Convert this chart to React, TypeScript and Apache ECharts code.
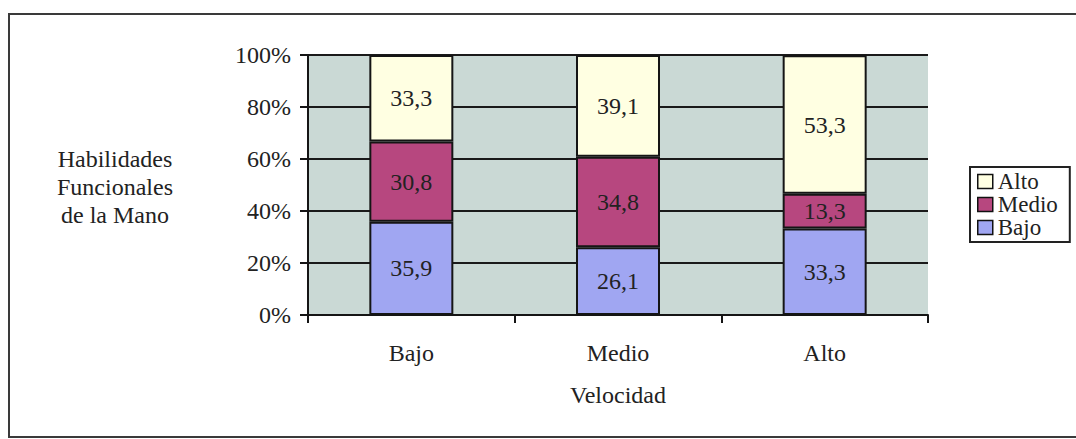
import React, { useEffect, useRef } from "react";
import * as echarts from "echarts";

const categories = ["Bajo", "Medio", "Alto"];
const bajoValues = [35.9, 26.1, 33.3];
const medioValues = [30.8, 34.8, 13.3];
const altoValues = [33.3, 39.1, 53.3];
const legendOrder = ["Alto", "Medio", "Bajo"];
const yAxisTitleLines = ["Habilidades", "Funcionales", "de la Mano"];
const xAxisTitle = "Velocidad";

const FONT = "Liberation Serif, Times New Roman, serif";
const TEXT = "#222";

const fmt = (p: any) => String(p.value).replace(".", ",");

function makeSeries(name: string, data: number[], color: string) {
  return {
    name,
    type: "bar",
    stack: "total",
    barWidth: 84,
    data,
    itemStyle: { color, borderColor: "#151515", borderWidth: 2 },
    label: {
      show: true,
      position: "inside",
      formatter: fmt,
      color: TEXT,
      fontSize: 24,
      fontFamily: FONT,
    },
  };
}

export default function App() {
  const ref = useRef<HTMLDivElement>(null);
  useEffect(() => {
    if (!ref.current) return;
    const chart = echarts.init(ref.current, undefined, { renderer: "svg" });
    chart.setOption({
      animation: false,
      backgroundColor: "#ffffff",
      textStyle: { fontFamily: FONT },
      grid: {
        left: 308,
        top: 55,
        width: 620,
        height: 260,
        show: true,
        backgroundColor: "#CAD9D5",
        borderWidth: 0,
      },
      legend: {
        data: legendOrder,
        orient: "vertical",
        left: 970,
        top: 167,
        padding: [3, 12, 3, 7],
        itemGap: 0,
        itemWidth: 15,
        itemHeight: 14,
        icon: "rect",
        borderColor: "#222",
        borderWidth: 2,
        itemStyle: { borderColor: "#111", borderWidth: 1.5 },
        textStyle: { color: TEXT, fontSize: 23, fontFamily: FONT, lineHeight: 23 },
      },
      xAxis: {
        type: "category",
        data: categories,
        axisLine: { lineStyle: { color: "#151515", width: 2 } },
        axisTick: { show: true, length: 8, inside: false, lineStyle: { color: "#151515", width: 2 } },
        axisLabel: { color: TEXT, fontSize: 24, fontFamily: FONT, margin: 26 },
        name: xAxisTitle,
        nameLocation: "middle",
        nameGap: 68,
        nameTextStyle: { color: TEXT, fontSize: 24, fontFamily: FONT },
      },
      yAxis: {
        type: "value",
        min: 0,
        max: 100,
        interval: 20,
        axisLine: { show: true, lineStyle: { color: "#151515", width: 2 } },
        axisTick: { show: true, length: 8, lineStyle: { color: "#151515", width: 2 } },
        axisLabel: { color: TEXT, fontSize: 24, fontFamily: FONT, margin: 17, formatter: "{value}%" },
        splitLine: { show: true, lineStyle: { color: "#1a1a1a", width: 2 } },
      },
      graphic: [
        {
          type: "rect",
          shape: { x: 9, y: 14, width: 1085, height: 423 },
          style: { fill: "none", stroke: "#3a3a3a", lineWidth: 2 },
        },
        {
          type: "text",
          x: 115,
          y: 187,
          style: {
            text: yAxisTitleLines.join("\n"),
            textAlign: "center",
            textVerticalAlign: "middle",
            fontSize: 24,
            fontFamily: FONT,
            lineHeight: 28,
            fill: TEXT,
          },
        },
      ],
      series: [
        makeSeries("Bajo", bajoValues, "#A0A6F2"),
        makeSeries("Medio", medioValues, "#B7477F"),
        makeSeries("Alto", altoValues, "#FFFFE2"),
      ],
    });
    return () => chart.dispose();
  }, []);
  return (
    <div
      ref={ref}
      style={{ position: "fixed", left: 0, top: 0, width: 1076, height: 439 }}
    />
  );
}
